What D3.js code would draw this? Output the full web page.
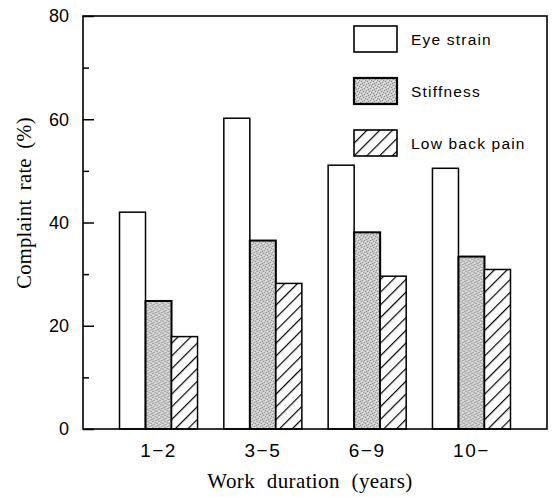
<!DOCTYPE html>
<html>
<head>
<meta charset="utf-8">
<script src="https://cdn.jsdelivr.net/npm/d3@7"></script>
<style>
  body { margin: 0; background: #fff; }
  svg { display: block; }
</style>
</head>
<body>
<svg id="chart" width="552" height="497"></svg>
<script>
"use strict";

// values
const durations = ["1\u22122", "3\u22125", "6\u22129", "10\u2212"];
const series = ["Eye strain", "Stiffness", "Low back pain"];
const eyeStrain = [42.0, 60.2, 51.1, 50.5];
const stiffness = [24.8, 36.5, 38.1, 33.4];
const lowBackPain = [17.9, 28.2, 29.6, 30.9];
const yTicks = [0, 20, 40, 60, 80];
const yMinorTicks = [10, 30, 50, 70];

const svg = d3.select("#chart");
const plotLeft = 83, plotTop = 16, plotRight = 547, plotBottom = 429;

const defs = svg.append("defs");

// stipple for stiffness
const stip = defs.append("pattern")
  .attr("id", "stipple")
  .attr("patternUnits", "userSpaceOnUse")
  .attr("width", 6).attr("height", 6);
stip.append("rect").attr("width", 6).attr("height", 6).attr("fill", "#c9c9c9");
[[0,0],[3,1],[1,3],[4,4],[2,5],[5,2]].forEach(p => {
  stip.append("rect").attr("x", p[0]).attr("y", p[1])
    .attr("width", 1).attr("height", 1).attr("fill", "#888");
});
[[1,1],[4,2],[0,4],[3,3],[5,5]].forEach(p => {
  stip.append("rect").attr("x", p[0]).attr("y", p[1])
    .attr("width", 1).attr("height", 1).attr("fill", "#eee");
});

// diagonal hatch for low back pain
const hatch = defs.append("pattern")
  .attr("id", "hatch")
  .attr("patternUnits", "userSpaceOnUse")
  .attr("width", 9).attr("height", 9)
  .attr("patternTransform", "rotate(45)");
hatch.append("rect").attr("width", 9).attr("height", 9).attr("fill", "#fff");
hatch.append("line")
  .attr("x1", 0).attr("y1", 0).attr("x2", 0).attr("y2", 9)
  .attr("stroke", "#000").attr("stroke-width", 2.4);

const fills = ["#fff", "url(#stipple)", "url(#hatch)"];

const x0 = d3.scaleBand()
  .domain(durations)
  .range([plotLeft, plotRight])
  .paddingInner(0.252)
  .paddingOuter(0.35);

const x1 = d3.scaleBand()
  .domain(series)
  .range([0, x0.bandwidth()]);

const y = d3.scaleLinear()
  .domain([0, 80])
  .range([plotBottom, plotTop]);

const rows = durations.map((d, i) => ({
  key: d,
  vals: [eyeStrain[i], stiffness[i], lowBackPain[i]]
}));

// bars
const groups = svg.selectAll(".grp")
  .data(rows)
  .enter()
  .append("g")
  .attr("transform", d => `translate(${x0(d.key)},0)`);

groups.selectAll("rect")
  .data(d => d.vals.map((v, j) => ({ s: series[j], v: v, j: j })))
  .enter()
  .append("rect")
  .attr("x", d => x1(d.s))
  .attr("y", d => y(d.v))
  .attr("width", x1.bandwidth())
  .attr("height", d => plotBottom - y(d.v))
  .attr("fill", d => fills[d.j])
  .attr("stroke", "#000")
  .attr("stroke-width", d => d.j === 1 ? 2 : 1.5);

// frame
svg.append("rect")
  .attr("x", plotLeft).attr("y", plotTop)
  .attr("width", plotRight - plotLeft).attr("height", plotBottom - plotTop)
  .attr("fill", "none")
  .attr("stroke", "#000")
  .attr("stroke-width", 1.6);

// y axis, ticks inside
const yAxis = svg.append("g")
  .attr("transform", `translate(${plotLeft},0)`)
  .call(d3.axisRight(y).tickValues(yTicks).tickSize(11).tickFormat(""));
yAxis.select(".domain").remove();
yAxis.selectAll("line").attr("stroke-width", 1.5);

const yMinor = svg.append("g")
  .attr("transform", `translate(${plotLeft},0)`)
  .call(d3.axisRight(y).tickValues(yMinorTicks).tickSize(6).tickFormat(""));
yMinor.select(".domain").remove();
yMinor.selectAll("line").attr("stroke-width", 1.5);

svg.append("g").selectAll("text")
  .data(yTicks)
  .enter()
  .append("text")
  .attr("x", 69)
  .attr("y", d => y(d))
  .attr("dy", "0.36em")
  .attr("text-anchor", "end")
  .attr("font-family", "Liberation Sans, sans-serif")
  .attr("font-size", 18)
  .text(d => d);

// x labels
svg.append("g").selectAll("text")
  .data(durations)
  .enter()
  .append("text")
  .attr("x", d => x0(d) + x0.bandwidth() / 2)
  .attr("y", 457)
  .attr("text-anchor", "middle")
  .attr("font-family", "Liberation Sans, sans-serif")
  .attr("font-size", 19)
  .attr("letter-spacing", 1.5)
  .text(d => d);

// axis titles
svg.append("text")
  .attr("x", 310)
  .attr("y", 488)
  .attr("text-anchor", "middle")
  .attr("font-family", "Liberation Serif, serif")
  .attr("font-size", 21)
  .attr("letter-spacing", 0.4)
  .attr("word-spacing", 6)
  .text("Work duration (years)");

svg.append("text")
  .attr("transform", "translate(31,203) rotate(-90)")
  .attr("text-anchor", "middle")
  .attr("font-family", "Liberation Serif, serif")
  .attr("font-size", 20.5)
  .attr("letter-spacing", 0.3)
  .attr("word-spacing", 4)
  .text("Complaint rate (%)");

// legend
const legend = svg.append("g");
series.forEach((s, j) => {
  const ly = 26 + j * 52;
  legend.append("rect")
    .attr("x", 354).attr("y", ly)
    .attr("width", 43).attr("height", 26)
    .attr("fill", fills[j])
    .attr("stroke", "#000")
    .attr("stroke-width", j === 1 ? 2.2 : 1.6);
  legend.append("text")
    .attr("x", 411).attr("y", ly + 19)
    .attr("font-family", "Liberation Sans, sans-serif")
    .attr("font-size", 15.5)
    .attr("letter-spacing", 1.2)
    .text(s);
});
</script>
</body>
</html>
